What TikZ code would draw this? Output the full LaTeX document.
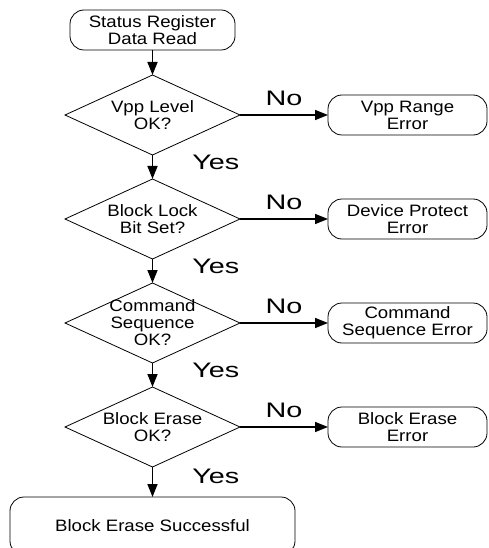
\documentclass[tikz,border=0pt]{standalone}
\usepackage{fontspec}
\setmainfont{Liberation Sans}[FakeStretch=1.13]
\newfontfamily\ynfont{Liberation Sans}[FakeStretch=1.37]
\usetikzlibrary{shapes,arrows.meta}

\tikzset{
  txt/.style={align=center, font=\fontsize{16.5}{17}\selectfont},
  box/.style={draw, line width=0.8pt, rounded corners=14pt, txt, inner sep=0pt, outer sep=0pt},
  decision/.style={draw, diamond, line width=0.8pt, minimum width=175pt, minimum height=80pt, inner sep=0pt, outer sep=0pt},
  flow/.style={line width=1.5pt, -{Triangle[length=13pt,width=10pt]}},
  yn/.style={font=\ynfont\fontsize{21}{21}\selectfont, inner sep=2pt}
}

\begin{document}
\begin{tikzpicture}[x=1pt,y=-1pt]
        \useasboundingbox (0,0) rectangle (489,548);
        \clip (0,0) rectangle (489,548);
        \node[box, minimum width=165pt, minimum height=40pt] (start) at (152.5,30) {Status Register\\Data Read};
        \foreach \n/\y/\q/\e in {1/115/{Vpp Level\\OK?}/{Vpp Range\\Error},
                                 2/219/{Block Lock\\Bit Set?}/{Device Protect\\Error},
                                 3/323/{Command\\Sequence\\OK?}/{Command\\Sequence Error},
                                 4/427/{Block Erase\\OK?}/{Block Erase\\Error}}
        {
          \node[decision, label={[txt]center:\q}] (d\n) at (152.5,\y) {};
          \node[box, minimum width=159pt, minimum height=40pt] (e\n) at (407.5,\y) {\e};
          \draw[flow] (d\n) -- node[yn, above=7pt] {No} (e\n);
        }
        \node[box, minimum width=285pt, minimum height=58pt] (done) at (152.5,526) {Block Erase Successful};
        \draw[flow] (start) -- (d1);
        \foreach \a/\b in {d1/d2,d2/d3,d3/d4,d4/done}
          \draw[flow] (\a) -- node[yn, pos=0.3, right=37pt] {Yes} (\b);
      \end{tikzpicture}
\end{document}
